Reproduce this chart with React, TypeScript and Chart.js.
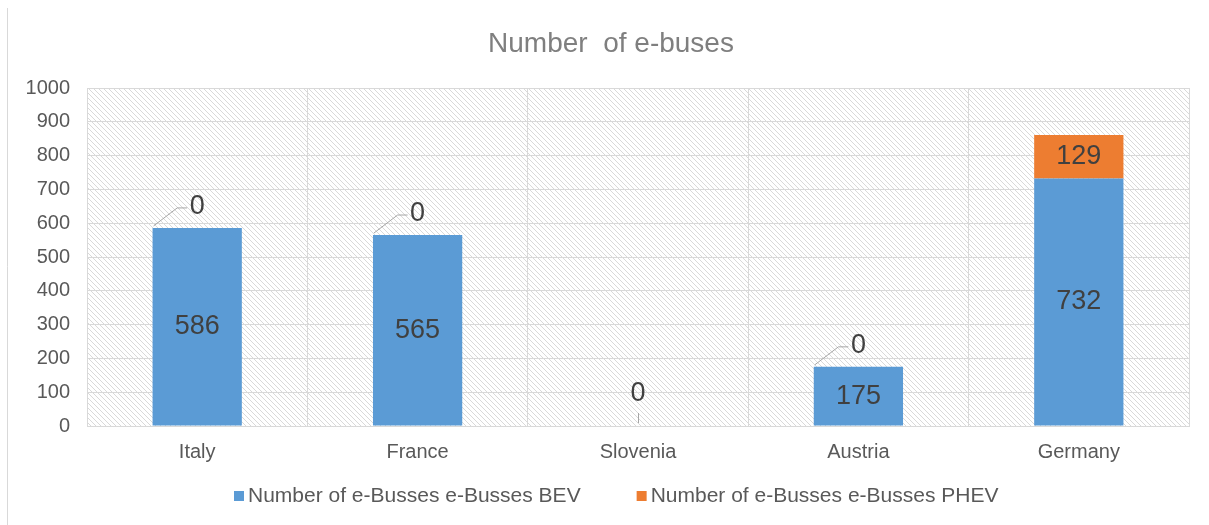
import React, { useEffect, useRef } from "react";
import { Chart, registerables } from "chart.js";

Chart.register(...registerables);

const chartTitle = "Number  of e-buses";
const categories = ["Italy", "France", "Slovenia", "Austria", "Germany"];
const bevValues = [586, 565, 0, 175, 732];
const phevValues = [0, 0, 0, 0, 129];
const seriesNames = ["Number of e-Busses e-Busses BEV", "Number of e-Busses e-Busses PHEV"];
const seriesColors = ["#5b9bd5", "#ed7d31"];
const yMin = 0;
const yMax = 1000;
const yStep = 100;

const FONT = "'Liberation Sans', Arial, sans-serif";
const W = 1209;
const H = 525;

function makeHatch(): CanvasPattern | string {
  const s = 5;
  const c = document.createElement("canvas");
  c.width = s;
  c.height = s;
  const g = c.getContext("2d");
  if (!g) return "#ffffff";
  g.fillStyle = "#ffffff";
  g.fillRect(0, 0, s, s);
  g.strokeStyle = "#d9d9d9";
  g.lineWidth = 1;
  for (let k = -1; k <= 1; k++) {
    g.beginPath();
    g.moveTo(k * s, 0);
    g.lineTo(k * s + s, s);
    g.stroke();
  }
  const p = g.createPattern(c, "repeat");
  return p || "#ffffff";
}

const backgroundPlugin = {
  id: "bgHatch",
  beforeDraw(chart: any) {
    const { ctx, chartArea } = chart;
    ctx.save();
    ctx.fillStyle = "#ffffff";
    ctx.fillRect(0, 0, chart.width, chart.height);
    ctx.strokeStyle = "#d9d9d9";
    ctx.lineWidth = 1;
    ctx.beginPath();
    ctx.moveTo(7.5, 8);
    ctx.lineTo(7.5, chart.height);
    ctx.stroke();
    ctx.fillStyle = makeHatch();
    ctx.fillRect(chartArea.left, chartArea.top, chartArea.right - chartArea.left, chartArea.bottom - chartArea.top);
    ctx.restore();
  },
};

const labelPlugin = {
  id: "valueLabels",
  afterDatasetsDraw(chart: any) {
    const { ctx } = chart;
    const m0 = chart.getDatasetMeta(0);
    const m1 = chart.getDatasetMeta(1);
    ctx.save();
    ctx.font = `27px ${FONT}`;
    ctx.fillStyle = "#404040";
    ctx.textAlign = "center";
    ctx.textBaseline = "middle";
    ctx.strokeStyle = "#a6a6a6";
    ctx.lineWidth = 1;
    categories.forEach((_, i) => {
      const b: any = m0.data[i].getProps(["x", "y", "base", "width"], true);
      const p: any = m1.data[i].getProps(["x", "y", "base", "width"], true);
      const bv = bevValues[i];
      const pv = phevValues[i];
      if (bv === 0 && pv === 0) {
        ctx.fillText(String(pv), b.x, b.base - 32);
        ctx.beginPath();
        ctx.moveTo(Math.round(b.x) + 0.5, b.base - 13);
        ctx.lineTo(Math.round(b.x) + 0.5, b.base - 3);
        ctx.stroke();
        return;
      }
      if (bv !== 0) {
        ctx.fillText(String(bv), b.x, (b.y + b.base) / 2);
      }
      if (pv !== 0) {
        ctx.fillText(String(pv), p.x, (p.y + p.base) / 2);
      } else {
        const top = p.y;
        const left = p.x - p.width / 2;
        ctx.beginPath();
        ctx.moveTo(left + 1, top - 2);
        ctx.lineTo(p.x - 20, top - 20);
        ctx.lineTo(p.x - 10, top - 20);
        ctx.stroke();
        ctx.fillText(String(pv), p.x, top - 21);
      }
    });
    ctx.restore();
  },
};

const titleLegendPlugin = {
  id: "titleLegend",
  afterDraw(chart: any) {
    const { ctx } = chart;
    ctx.save();
    ctx.font = `28px ${FONT}`;
    ctx.fillStyle = "#7f7f7f";
    ctx.textAlign = "center";
    ctx.textBaseline = "alphabetic";
    ctx.fillText(chartTitle, 611, 52);

    ctx.font = `21px ${FONT}`;
    ctx.textAlign = "left";
    ctx.textBaseline = "middle";
    const box = 10;
    const gapBoxText = 4;
    const gapItems = 56;
    const widths = seriesNames.map((n) => ctx.measureText(n).width);
    const total = widths.reduce((a, w) => a + box + gapBoxText + w, 0) + gapItems * (seriesNames.length - 1);
    let x = Math.round(616 - total / 2);
    const cy = 496;
    seriesNames.forEach((n, i) => {
      ctx.fillStyle = seriesColors[i];
      ctx.fillRect(x, cy - box / 2, box, box);
      ctx.fillStyle = "#595959";
      ctx.fillText(n, x + box + gapBoxText, cy);
      x += box + gapBoxText + widths[i] + gapItems;
    });
    ctx.restore();
  },
};

export default function App() {
  const ref = useRef<HTMLCanvasElement | null>(null);
  useEffect(() => {
    document.body.style.margin = "0";
    const canvas = ref.current;
    if (!canvas) return;
    const chart = new Chart(canvas, {
      type: "bar",
      data: {
        labels: categories,
        datasets: [
          {
            label: seriesNames[0],
            data: bevValues,
            backgroundColor: seriesColors[0],
            barPercentage: 0.405,
            categoryPercentage: 1,
          },
          {
            label: seriesNames[1],
            data: phevValues,
            backgroundColor: seriesColors[1],
            barPercentage: 0.405,
            categoryPercentage: 1,
          },
        ],
      },
      options: {
        animation: false,
        responsive: false,
        devicePixelRatio: 1,
        layout: { padding: { top: 88, right: 20, bottom: 59, left: 0 } },
        plugins: {
          legend: { display: false },
          title: { display: false },
          tooltip: { enabled: false },
        },
        scales: {
          x: {
            stacked: true,
            afterFit(scale: any) {
              scale.height = 40;
            },
            grid: { color: "#d9d9d9", lineWidth: 1, drawTicks: false, offset: true },
            border: { color: "#d9d9d9" },
            ticks: { color: "#595959", font: { family: FONT, size: 20 }, padding: 14 },
          },
          y: {
            stacked: true,
            min: yMin,
            max: yMax,
            afterFit(scale: any) {
              scale.width = 87;
            },
            grid: { color: "#d9d9d9", lineWidth: 1, drawTicks: false },
            border: { color: "#d9d9d9" },
            ticks: {
              stepSize: yStep,
              color: "#595959",
              font: { family: FONT, size: 20 },
              padding: 17,
              callback: (v: any) => String(v),
            },
          },
        },
      },
      plugins: [backgroundPlugin, labelPlugin, titleLegendPlugin],
    });
    return () => chart.destroy();
  }, []);
  return (
    <div style={{ width: W, height: H }}>
      <canvas ref={ref} width={W} height={H} style={{ display: "block" }} />
    </div>
  );
}
